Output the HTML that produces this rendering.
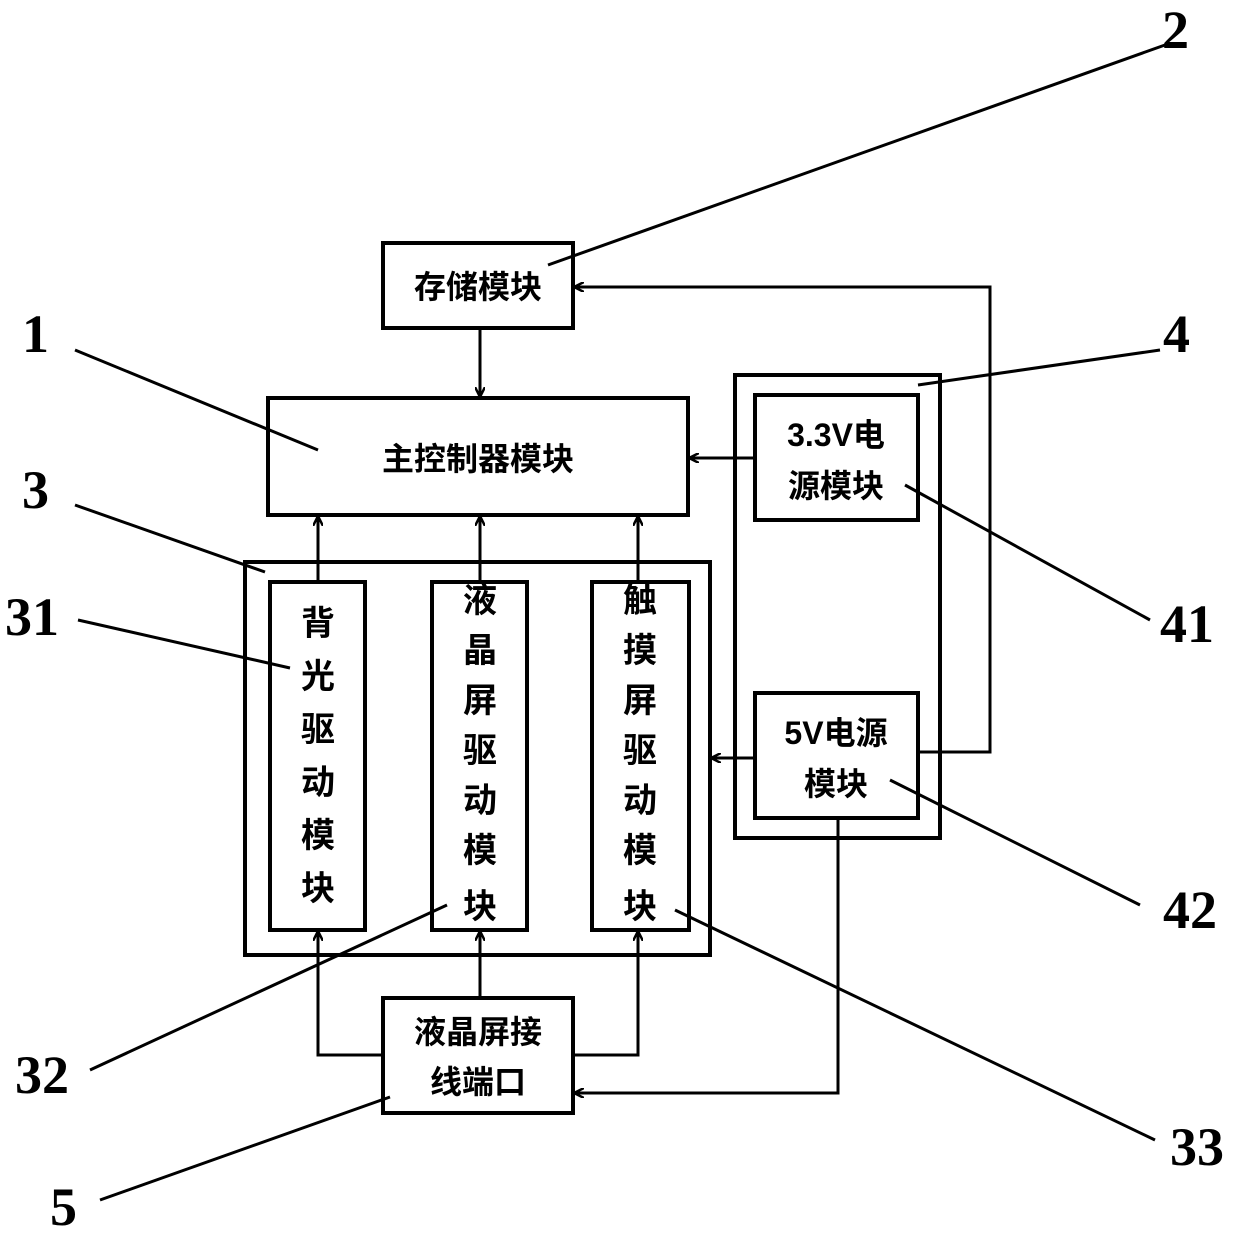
<!DOCTYPE html>
<html><head><meta charset="utf-8"><style>
html,body{margin:0;padding:0;background:#fff}
svg text{font-family:"Liberation Sans","Noto Sans CJK SC",sans-serif;font-weight:bold;fill:#000}
.n{font-family:"Liberation Serif",serif;font-size:54px;font-weight:bold}
</style></head><body>
<svg width="1240" height="1237" viewBox="0 0 1240 1237" xmlns="http://www.w3.org/2000/svg">
<defs><marker id="a" markerWidth="10" markerHeight="10" refX="9" refY="5" orient="auto" markerUnits="userSpaceOnUse"><path d="M0,0 L10,5 L0,10" fill="none" stroke="#000" stroke-width="2.5"/></marker></defs>
<g fill="none" stroke="#000" stroke-width="4">
<rect x="383" y="243" width="190" height="85"/>
<rect x="268" y="398" width="420" height="117"/>
<rect x="245" y="562" width="465" height="393"/>
<rect x="270" y="582" width="95" height="348"/>
<rect x="432" y="582" width="95" height="348"/>
<rect x="592" y="582" width="97" height="348"/>
<rect x="735" y="375" width="205" height="463"/>
<rect x="755" y="395" width="163" height="125"/>
<rect x="755" y="693" width="163" height="125"/>
<rect x="383" y="998" width="190" height="115"/>
</g>
<g fill="none" stroke="#000" stroke-width="3" marker-end="url(#a)">
<line x1="480" y1="328" x2="480" y2="396"/>
<line x1="318" y1="582" x2="318" y2="517"/>
<line x1="480" y1="582" x2="480" y2="517"/>
<line x1="638" y1="582" x2="638" y2="517"/>
<line x1="755" y1="458" x2="690" y2="458"/>
<line x1="755" y1="758" x2="712" y2="758"/>
<polyline points="918,752 990,752 990,287 575,287"/>
<polyline points="838,818 838,1093 575,1093"/>
<line x1="480" y1="998" x2="480" y2="932"/>
<polyline points="383,1055 318,1055 318,932"/>
<polyline points="573,1055 638,1055 638,932"/>
</g>
<g stroke="#000" stroke-width="3">
<line x1="1165" y1="45" x2="548" y2="265"/>
<line x1="75" y1="350" x2="318" y2="450"/>
<line x1="1160" y1="350" x2="918" y2="385"/>
<line x1="75" y1="505" x2="265" y2="572"/>
<line x1="78" y1="620" x2="290" y2="668"/>
<line x1="1150" y1="620" x2="905" y2="485"/>
<line x1="1140" y1="905" x2="890" y2="780"/>
<line x1="90" y1="1070" x2="447" y2="905"/>
<line x1="1155" y1="1140" x2="675" y2="910"/>
<line x1="100" y1="1200" x2="390" y2="1097"/>
</g>
<g class="n">
<text x="1162" y="48" class="n">2</text>
<text x="22" y="352" class="n">1</text>
<text x="1163" y="352" class="n">4</text>
<text x="22" y="508" class="n">3</text>
<text x="5" y="635" class="n">31</text>
<text x="1160" y="642" class="n">41</text>
<text x="1163" y="928" class="n">42</text>
<text x="15" y="1093" class="n">32</text>
<text x="1170" y="1165" class="n">33</text>
<text x="50" y="1225" class="n">5</text>
</g>
<g font-size="32" text-anchor="middle">
<text x="478" y="298">存储模块</text>
<text x="478" y="470">主控制器模块</text>
<text x="836" y="446">3.3V电</text>
<text x="836" y="497">源模块</text>
<text x="836" y="744">5V电源</text>
<text x="836" y="795">模块</text>
<text x="478" y="1043">液晶屏接</text>
<text x="478" y="1093">线端口</text>
</g>
<g font-size="34" text-anchor="middle">
<text x="318" y="635">背</text><text x="318" y="688">光</text><text x="318" y="741">驱</text><text x="318" y="794">动</text><text x="318" y="847">模</text><text x="318" y="900">块</text>
<text x="480" y="612">液</text><text x="480" y="662">晶</text><text x="480" y="712">屏</text><text x="480" y="762">驱</text><text x="480" y="812">动</text><text x="480" y="862">模</text><text x="480" y="918">块</text>
<text x="640" y="612">触</text><text x="640" y="662">摸</text><text x="640" y="712">屏</text><text x="640" y="762">驱</text><text x="640" y="812">动</text><text x="640" y="862">模</text><text x="640" y="918">块</text>
</g>
</svg>
</body></html>
